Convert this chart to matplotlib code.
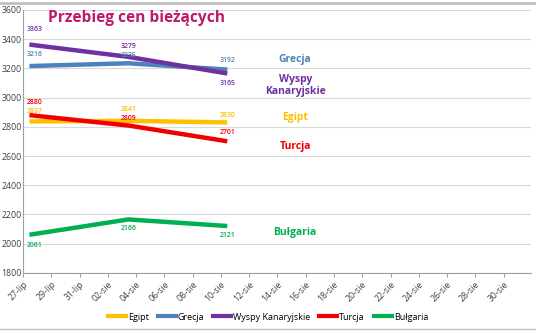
import matplotlib
matplotlib.use("Agg")
import matplotlib.pyplot as plt
from matplotlib.lines import Line2D

plt.rcParams['font.family'] = ['Open Sans', 'DejaVu Sans']

# days counted from 27-lip
days = [0, 7, 14]
tick_days = list(range(0, 35, 2))
tick_labels = ['27-lip', '29-lip', '31-lip', '02-sie', '04-sie', '06-sie', '08-sie',
               '10-sie', '12-sie', '14-sie', '16-sie', '18-sie', '20-sie', '22-sie',
               '24-sie', '26-sie', '28-sie', '30-sie']

series_names = ['Egipt', 'Grecja', 'Wyspy Kanaryjskie', 'Turcja', 'Bułgaria']
egipt = [2837, 2841, 2830]
grecja = [3216, 3235, 3192]
wyspy = [3363, 3279, 3165]
turcja = [2880, 2809, 2701]
bulgaria = [2061, 2166, 2121]

colors = ['#FFC000', '#4F81BD', '#7030A0', '#F00000', '#00B050']
side_labels = ['Egipt', 'Grecja', 'Wyspy\nKanaryjskie', 'Turcja', 'Bułgaria']
side_y = [2862, 3259, 3084, 2663, 2074]
# label offsets in points (above > 0, below < 0)
offsets = [[7, 8, 5], [8.5, 5.5, 6.5], [10.8, 7.5, -7], [9, 5, 6.5], [-8, -6.5, -6.5]]
x_shift = [4, 0, 0]

fig = plt.figure(figsize=(5.36, 3.32), dpi=100)
ax = fig.add_axes([0.043, 0.178, 0.948, 0.792])

all_vals = [egipt, grecja, wyspy, turcja, bulgaria]
for vals, c, offs in zip(all_vals, colors, offsets):
    ax.plot(days, vals, color=c, lw=3.2, solid_capstyle='butt', zorder=3)
    for d, v, o, dx in zip(days, vals, offs, x_shift):
        ax.annotate(str(v), (d, v), xytext=(dx, o), textcoords='offset points',
                    ha='center', va='center', fontsize=5, color=c,
                    fontweight='semibold', zorder=4)

for lab, y, c in zip(side_labels, side_y, colors):
    ax.text(18.8, y, lab, color=c, fontsize=7.5, fontweight='bold',
            ha='center', va='center', linespacing=1.1)

ax.text(7.56, 3547, 'Przebieg cen bieżących', color='#C0186A', fontsize=11.2,
        fontweight='bold', ha='center', va='center')

ax.set_xlim(-0.45, 35.5)
ax.set_ylim(1800, 3600)
ax.set_xticks([t - 0.45 for t in tick_days])
ax.set_xticklabels(tick_labels, rotation=45, ha='right', rotation_mode='anchor',
                   fontsize=6.3, color='#404040')
ax.set_yticks(range(1800, 3601, 200))
ax.tick_params(axis='y', labelsize=6.3, labelcolor='#404040', length=0, pad=1)
ax.tick_params(axis='x', length=3, color='#A0A0A0', pad=2)
ax.grid(axis='y', color='#D9D9D9', lw=0.8)
ax.set_axisbelow(True)
for s in ['top', 'right']:
    ax.spines[s].set_visible(False)
for s in ['left', 'bottom']:
    ax.spines[s].set_color('#A0A0A0')

handles = [Line2D([0], [0], color=c, lw=3) for c in colors]
fig.legend(handles, series_names, loc='center', bbox_to_anchor=(0.5, 0.045),
           ncol=5, frameon=False, fontsize=6.5, handlelength=2.0,
           handletextpad=0.2, columnspacing=1.0)

fig.add_artist(Line2D([0, 1], [0.992, 0.992], color='#C0C0C0', lw=2))
fig.add_artist(Line2D([0, 1], [0.008, 0.008], color='#C0C0C0', lw=1))

fig.savefig('out.png', dpi=100)
